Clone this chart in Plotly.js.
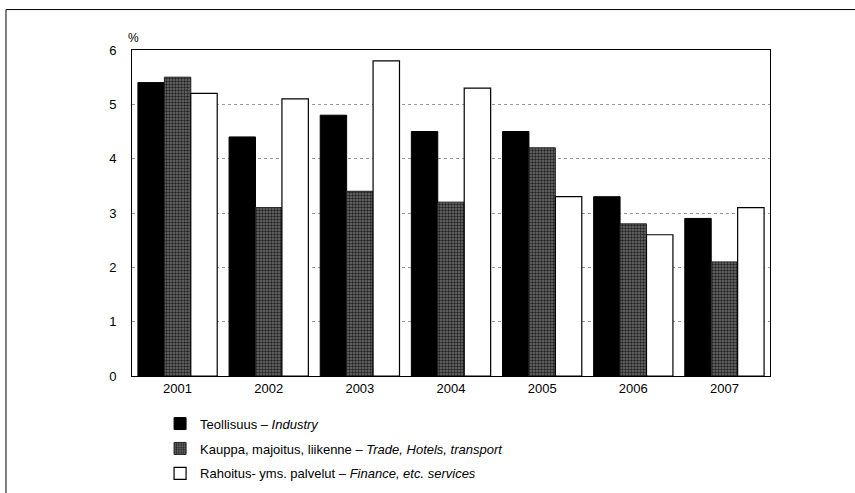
<!DOCTYPE html>
<html>
<head>
<meta charset="utf-8">
<script src="https://cdn.plot.ly/plotly-3.0.1.min.js"></script>
<style>html,body{margin:0;padding:0;background:#fff}#chart{width:855px;height:493px}</style>
</head>
<body>
<div id="chart"></div>
<script>
const years = ['2001','2002','2003','2004','2005','2006','2007'];
const industry = [5.4, 4.4, 4.8, 4.5, 4.5, 3.3, 2.9];
const trade = [5.5, 3.1, 3.4, 3.2, 4.2, 2.8, 2.1];
const finance = [5.2, 5.1, 5.8, 5.3, 3.3, 2.6, 3.1];
const names = [
  'Teollisuus – <i>Industry</i>',
  'Kauppa, majoitus, liikenne – <i>Trade, Hotels, transport</i>',
  'Rahoitus- yms. palvelut – <i>Finance, etc. services</i>'
];
const yTicks = [0, 1, 2, 3, 4, 5, 6];

const traces = [
  {type:'bar', x:years, y:industry, name:names[0], legendgroup:'a',
   marker:{color:'#000', line:{color:'#000', width:1}}},
  {type:'bar', x:years, y:trade, name:names[1], legendgroup:'b',
   marker:{color:'#5a5a5a', line:{color:'#222', width:1},
           pattern:{shape:'.', fgcolor:'#222', bgcolor:'#707070', size:3, solidity:0.5}}},
  {type:'bar', x:years, y:finance, name:names[2], legendgroup:'c',
   marker:{color:'#fff', line:{color:'#000', width:1.2}}}
];

const layout = {
  width:855, height:493,
  margin:{l:132, r:85, t:50, b:117, autoexpand:false},
  paper_bgcolor:'#fff', plot_bgcolor:'#fff',
  font:{family:'Liberation Sans, Arial, sans-serif', size:13, color:'#000'},
  barmode:'group', bargap:0.13, bargroupgap:0,
  showlegend:true,
  legend:{x:0.044, y:-0.1, xanchor:'left', yanchor:'top',
          traceorder:'grouped', tracegroupgap:5, font:{size:13}, itemwidth:30, bgcolor:'rgba(0,0,0,0)'},
  xaxis:{type:'category', tickvals:years, showline:true, mirror:true, linecolor:'#000', linewidth:1, ticks:'', showgrid:false,
         tickfont:{size:13}},
  yaxis:{range:[0,6], tickvals:yTicks, showline:true, mirror:true, linecolor:'#000', linewidth:1,
         showgrid:true, gridcolor:'#999', griddash:'dot', gridwidth:1, zeroline:false,
         ticks:'', ticklabelstandoff:12, tickfont:{size:13}},
  annotations:[
    {xref:'paper', yref:'paper', x:-0.01, y:1.008, xanchor:'left', yanchor:'bottom',
     text:'%', showarrow:false, font:{size:12}}
  ],
  shapes:[
    {type:'line', xref:'paper', yref:'paper', x0:-0.1975, x1:1.14, y0:1.124, y1:1.124, line:{color:'#000', width:1}},
    {type:'line', xref:'paper', yref:'paper', x0:-0.1975, x1:-0.1975, y0:1.124, y1:-0.36, line:{color:'#000', width:1}}
  ]
};

Plotly.newPlot('chart', traces, layout, {displayModeBar:false, staticPlot:true});
</script>
</body>
</html>
